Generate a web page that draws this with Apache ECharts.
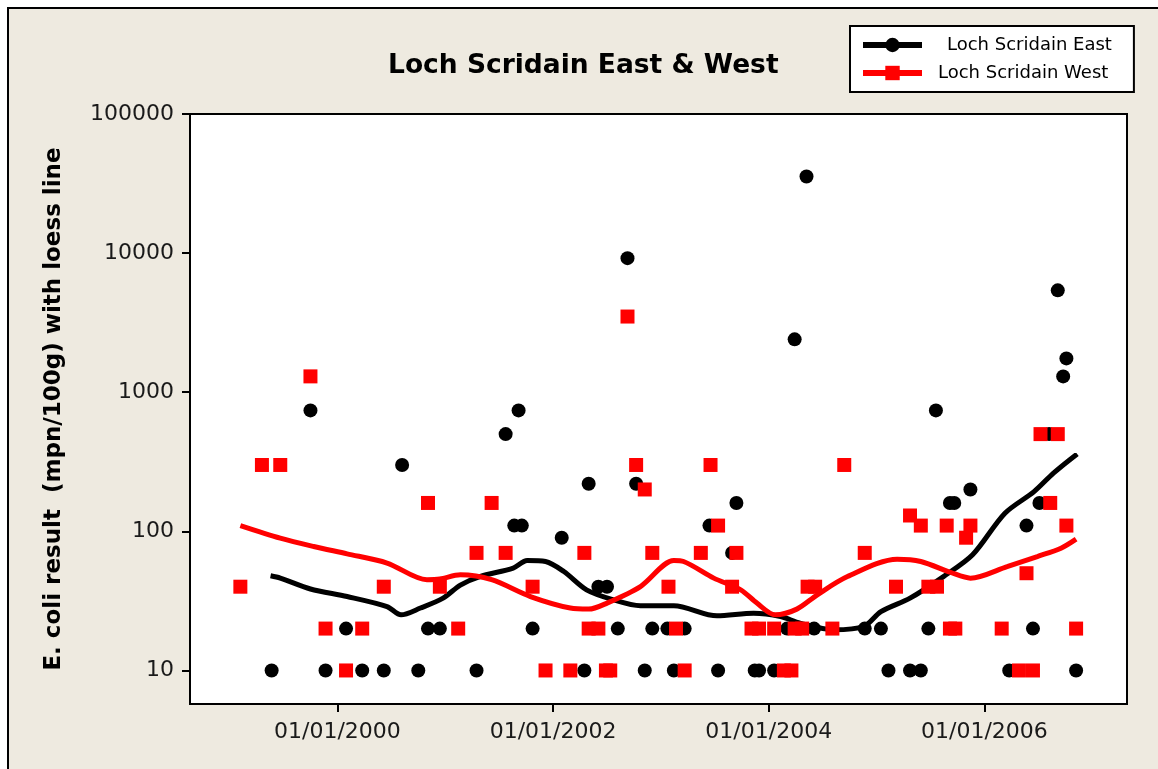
<!DOCTYPE html>
<html>
<head>
<meta charset="utf-8">
<script src="https://cdn.jsdelivr.net/npm/echarts@6/dist/echarts.min.js"></script>
<style>
  html, body { margin: 0; padding: 0; background: #fff; }
  #chart { width: 1158px; height: 769px; }
</style>
</head>
<body>
<div id="chart"></div>
<script>
// sample dates as decimal years, values in mpn/100g
var eastYear = [1999.39, 1999.75, 1999.89, 2000.08, 2000.23, 2000.43, 2000.60, 2000.75, 2000.84, 2000.95,
  2001.29, 2001.56, 2001.64, 2001.68, 2001.71, 2001.81, 2002.08, 2002.29, 2002.33, 2002.42,
  2002.50, 2002.60, 2002.69, 2002.77, 2002.85, 2002.92, 2003.06, 2003.12, 2003.22, 2003.45,
  2003.53, 2003.66, 2003.70, 2003.87, 2003.91, 2004.05, 2004.17, 2004.24, 2004.35, 2004.42,
  2004.89, 2005.04, 2005.11, 2005.31, 2005.41, 2005.48, 2005.55, 2005.68, 2005.72, 2005.87,
  2006.23, 2006.39, 2006.45, 2006.51, 2006.60, 2006.68, 2006.73, 2006.76, 2006.85];
var eastValue = [10, 740, 10, 20, 10, 10, 300, 10, 20, 20,
  10, 500, 110, 740, 110, 20, 90, 10, 220, 40,
  40, 20, 9200, 220, 10, 20, 20, 10, 20, 110,
  10, 70, 160, 10, 10, 10, 20, 2400, 35500, 20,
  20, 20, 10, 10, 10, 20, 740, 160, 160, 200,
  10, 110, 20, 160, 500, 5400, 1300, 1750, 10];

var westYear = [1999.10, 1999.30, 1999.47, 1999.75, 1999.89, 2000.08, 2000.23, 2000.43, 2000.84, 2000.95,
  2001.12, 2001.29, 2001.43, 2001.56, 2001.81, 2001.93, 2002.16, 2002.29, 2002.33, 2002.42,
  2002.49, 2002.53, 2002.69, 2002.77, 2002.85, 2002.92, 2003.07, 2003.14, 2003.22, 2003.37,
  2003.46, 2003.53, 2003.66, 2003.70, 2003.84, 2003.91, 2004.05, 2004.14, 2004.21, 2004.24,
  2004.31, 2004.36, 2004.43, 2004.59, 2004.70, 2004.89, 2005.18, 2005.31, 2005.41, 2005.48,
  2005.56, 2005.65, 2005.68, 2005.73, 2005.83, 2005.87, 2006.16, 2006.32, 2006.39, 2006.45,
  2006.52, 2006.61, 2006.68, 2006.76, 2006.85];
var westValue = [40, 300, 300, 1300, 20, 10, 20, 40, 160, 40,
  20, 70, 160, 70, 40, 10, 10, 70, 20, 20,
  10, 10, 3500, 300, 200, 70, 40, 20, 10, 70,
  300, 110, 40, 70, 20, 20, 20, 10, 10, 20,
  20, 40, 40, 20, 300, 70, 40, 130, 110, 40,
  40, 110, 20, 20, 90, 110, 20, 10, 50, 10,
  500, 160, 500, 110, 20];

// loess smoother
var eastLoessYear = [1999.38, 1999.47, 1999.75, 2000.09, 2000.46, 2000.59, 2000.77, 2000.98, 2001.14, 2001.32,
  2001.63, 2001.76, 2001.93, 2002.10, 2002.31, 2002.56, 2002.81, 2003.12, 2003.52, 2003.86,
  2004.11, 2004.29, 2004.60, 2004.88, 2005.04, 2005.31, 2005.62, 2005.89, 2006.19, 2006.46,
  2006.64, 2006.86];
var eastLoessValue = [47.9, 46.1, 38.5, 34.0, 28.8, 25.1, 28.1, 33.1, 41.1, 47.3,
  54.5, 61.7, 60.7, 51.4, 38.0, 32.2, 29.2, 29.2, 24.7, 25.8,
  24.4, 21.9, 19.6, 20.7, 26.5, 33.1, 47.3, 67.8, 135, 193,
  262, 360];

var westLoessYear = [1999.10, 1999.47, 1999.78, 2000.09, 2000.46, 2000.83, 2000.95, 2001.14, 2001.43, 2001.79,
  2002.16, 2002.33, 2002.50, 2002.81, 2003.12, 2003.21, 2003.49, 2003.74, 2003.89, 2004.06,
  2004.26, 2004.45, 2004.73, 2005.19, 2005.41, 2005.69, 2005.87, 2006.21, 2006.49, 2006.71,
  2006.85];
var westLoessValue = [110, 89.3, 77.8, 68.9, 59.2, 44.9, 45.4, 48.7, 44.9, 34.0,
  28.1, 27.6, 30.5, 40.1, 61.7, 60.7, 46.1, 38.0, 30.5, 25.1,
  27.6, 35.0, 47.3, 63.1, 60.7, 50.6, 46.1, 55.8, 65.9, 75.7,
  87.9];

var xTicks = [2000, 2002, 2004, 2006];
var yTicks = [10, 100, 1000, 10000, 100000];

function pairs(xs, ys) {
  return xs.map(function (x, i) { return [x, ys[i]]; });
}

var FONT = 'DejaVu Sans';
var chart = echarts.init(document.getElementById('chart'));

var option = {
  backgroundColor: '#fff',
  animation: false,
  graphic: [{
    type: 'rect',
    z: -10,
    silent: true,
    shape: { x: 8, y: 8, width: 1200, height: 800 },
    style: { fill: '#EEEAE0', stroke: '#000', lineWidth: 2 }
  }],
  title: {
    text: 'Loch Scridain East & West',
    left: 383,
    top: 48,
    textStyle: { fontFamily: FONT, fontSize: 26.5, fontWeight: 'bold', color: '#000' }
  },
  legend: {
    orient: 'vertical',
    left: 850,
    top: 26,
    padding: [10, 22, 10, 10],
    itemGap: 10,
    itemWidth: 59,
    itemHeight: 18,
    backgroundColor: '#fff',
    borderColor: '#000',
    borderWidth: 2,
    borderRadius: 0,
    lineStyle: { width: 6 },
    data: ['Loch Scridain East', 'Loch Scridain West'],
    formatter: function (name) {
      return name.indexOf('East') >= 0 ? '{e|' + name + '}' : '{w|' + name + '}';
    },
    textStyle: {
      fontFamily: FONT, fontSize: 18, color: '#000',
      rich: {
        e: { fontFamily: FONT, fontSize: 18, color: '#000', padding: [0, 0, 0, 20] },
        w: { fontFamily: FONT, fontSize: 18, color: '#000', padding: [0, 0, 0, 11] }
      }
    }
  },
  grid: {
    left: 190, top: 114, right: 31, bottom: 65,
    show: true, backgroundColor: '#fff', borderColor: '#000', borderWidth: 2
  },
  xAxis: {
    type: 'value',
    min: 1998.633,
    max: 2007.322,
    axisLine: { lineStyle: { color: '#000', width: 2 } },
    axisTick: { show: true, length: 8, customValues: xTicks, lineStyle: { color: '#000', width: 2 } },
    axisLabel: {
      customValues: xTicks,
      margin: 17,
      fontFamily: FONT, fontSize: 22, color: '#1a1a1a',
      formatter: function (v) { return '01/01/' + v; }
    },
    splitLine: { show: false }
  },
  yAxis: {
    type: 'log',
    logBase: 10,
    min: 5.74,
    max: 100000,
    name: 'E. coli result  (mpn/100g) with loess line',
    nameLocation: 'middle',
    nameRotate: 90,
    nameGap: 124,
    nameTextStyle: { fontFamily: FONT, fontSize: 23, fontWeight: 'bold', color: '#000' },
    axisLine: { show: true, lineStyle: { color: '#000', width: 2 } },
    axisTick: { show: true, length: 8, customValues: yTicks, lineStyle: { color: '#000', width: 2 } },
    axisLabel: {
      customValues: yTicks,
      margin: 16,
      fontFamily: FONT, fontSize: 22, color: '#1a1a1a',
      formatter: function (v) { return String(v); }
    },
    splitLine: { show: false }
  },
  series: [
    {
      name: 'Loch Scridain East',
      type: 'line',
      data: pairs(eastLoessYear, eastLoessValue),
      symbol: 'circle',
      symbolSize: 14,
      showSymbol: false,
      smooth: 0.3,
      z: 2,
      itemStyle: { color: '#000' },
      lineStyle: { color: '#000', width: 5 },
      emphasis: { disabled: true }
    },
    {
      name: 'Loch Scridain West',
      type: 'line',
      data: pairs(westLoessYear, westLoessValue),
      symbol: 'rect',
      symbolSize: 14,
      showSymbol: false,
      smooth: 0.3,
      z: 2,
      itemStyle: { color: '#ff0000' },
      lineStyle: { color: '#ff0000', width: 5 },
      emphasis: { disabled: true }
    },
    {
      name: 'Loch Scridain East',
      type: 'scatter',
      data: pairs(eastYear, eastValue),
      symbol: 'circle',
      symbolSize: 14,
      z: 3,
      itemStyle: { color: '#000', opacity: 1 },
      emphasis: { disabled: true }
    },
    {
      name: 'Loch Scridain West',
      type: 'scatter',
      data: pairs(westYear, westValue),
      symbol: 'rect',
      symbolSize: 14,
      z: 4,
      itemStyle: { color: '#ff0000', opacity: 1 },
      emphasis: { disabled: true }
    }
  ]
};

chart.setOption(option);
</script>
</body>
</html>
